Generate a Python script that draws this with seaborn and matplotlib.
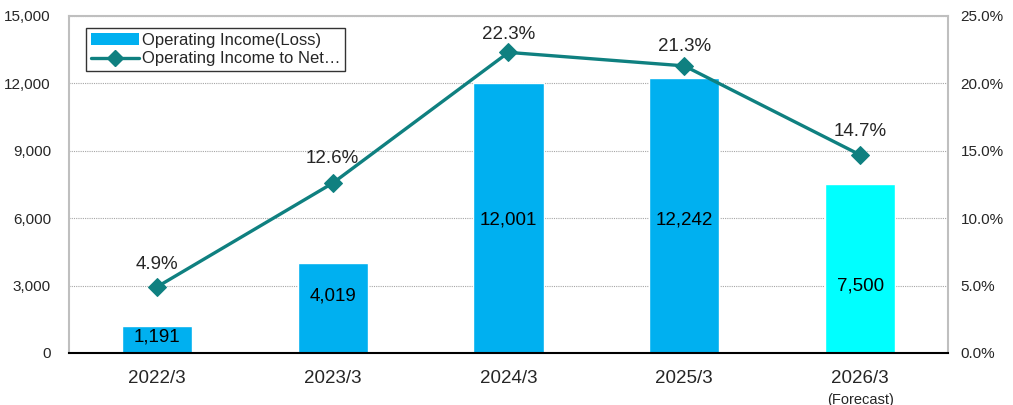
import matplotlib
matplotlib.use("Agg")
import matplotlib.pyplot as plt
from matplotlib.lines import Line2D
from matplotlib.patches import Patch
from matplotlib.ticker import FuncFormatter, MultipleLocator
import seaborn as sns

# datos del grafico
periodos = ["2022/3", "2023/3", "2024/3", "2025/3", "2026/3"]
ingreso_operativo = [1191, 4019, 12001, 12242, 7500]
margen_operativo = [4.9, 12.6, 22.3, 21.3, 14.7]
colores_barras = ["#00B0F0", "#00B0F0", "#00B0F0", "#00B0F0", "#00FFFF"]
etiqueta_barra = "Operating Income(Loss)"
etiqueta_linea = "Operating Income to Net\u2026"

# altura (en unidades de datos) donde van los numeros dentro de las barras
pos_etiquetas = [712, 2540, 5920, 5920, 2980]
# separacion (en puntos) entre cada marcador y su porcentaje
sep_porcentajes = [16.5, 18, 13, 14, 16.5]

sns.set_style("white")
plt.rcParams["font.family"] = ["Liberation Sans", "DejaVu Sans"]

fig = plt.figure(figsize=(10.13, 4.05), dpi=100)
ax = fig.add_axes([0.0681, 0.1284, 0.8677, 0.8321])

x = list(range(len(periodos)))
sns.barplot(x=x, y=ingreso_operativo, hue=x, palette=colores_barras,
            width=0.4, legend=False, ax=ax, saturation=1, native_scale=True)
ax.set_xlim(-0.5, 4.5)
ax.set_ylim(0, 15000)
ax.yaxis.set_major_locator(MultipleLocator(3000))
ax.yaxis.set_major_formatter(FuncFormatter(lambda v, p: f"{v:,.0f}"))
ax.grid(axis="y", color="#A6A6A6", linestyle=(0, (1, 1)), linewidth=0.8)
ax.set_axisbelow(True)
ax.set_xticks(x)
ax.set_xticklabels(periodos, fontsize=13.5)
ax.tick_params(axis="both", length=0)
ax.tick_params(axis="x", pad=12)
ax.tick_params(axis="y", labelsize=11, pad=13)
ax.set_xlabel("")
ax.set_ylabel("")
for lado in ["left", "top", "right"]:
    ax.spines[lado].set_color("#BFBFBF")
    ax.spines[lado].set_linewidth(1.5)
ax.spines["bottom"].set_color("black")
ax.spines["bottom"].set_linewidth(1.5)

ax.text(4, -0.138, "(Forecast)", transform=ax.get_xaxis_transform(),
        ha="center", va="center", fontsize=10.5)

for xi, valor, ypos in zip(x, ingreso_operativo, pos_etiquetas):
    ax.text(xi, ypos, f"{valor:,}", ha="center", va="center", fontsize=13.5,
            color="black")

ax2 = ax.twinx()
sns.lineplot(x=x, y=margen_operativo, ax=ax2, color="#0F8080", linewidth=2.4,
             marker="D", markersize=9, markeredgecolor="#0F8080")
ax2.set_ylim(0, 25)
ax2.yaxis.set_major_locator(MultipleLocator(5))
ax2.yaxis.set_major_formatter(FuncFormatter(lambda v, p: f"{v:.1f}%"))
ax2.tick_params(axis="y", length=0, labelsize=11, pad=9)
ax2.set_ylabel("")
for lado in ["left", "top", "right", "bottom"]:
    ax2.spines[lado].set_visible(False)

for xi, valor, sep in zip(x, margen_operativo, sep_porcentajes):
    ax2.annotate(f"{valor:.1f}%", (xi, valor), xytext=(0, sep),
                 textcoords="offset points", ha="center", va="center",
                 fontsize=13.5)

manijas = [Patch(facecolor="#00B0F0", edgecolor="none"),
           Line2D([0], [0], color="#0F8080", linewidth=2.4, marker="D", markersize=8)]
leyenda = ax2.legend(manijas, [etiqueta_barra, etiqueta_linea], loc="upper left",
                     bbox_to_anchor=(0.019, 0.964), fontsize=12, frameon=True,
                     fancybox=False, edgecolor="black", borderpad=0.3,
                     handlelength=2.9, handletextpad=0.15, labelspacing=0.2,
                     borderaxespad=0)
leyenda.get_frame().set_linewidth(1.0)

fig.savefig("out.png", dpi=100)
